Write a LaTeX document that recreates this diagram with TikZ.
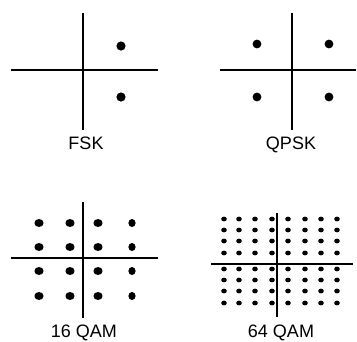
\documentclass[tikz,border=0pt]{standalone}
\usepackage{fontspec}
\setmainfont{Liberation Sans}
\begin{document}
\begin{tikzpicture}[x=1pt,y=-1pt,
  axis/.style={line width=2.2pt,black},
  lbl/.style={font=\fontsize{18}{20}\selectfont,inner sep=0pt,anchor=base}]
\useasboundingbox (0,0) rectangle (357,341);
% FSK
\coordinate (f1) at (83,13); \coordinate (f2) at (83,130);
\coordinate (f3) at (11,70); \coordinate (f4) at (158,70);
\draw[axis] (f1) -- (f2); \draw[axis] (f3) -- (f4);
\fill (121,46) circle[radius=4.6];
\fill (121,97) circle[radius=4.6];
\node[lbl] (fsk) at (86,149) {FSK};
% QPSK
\coordinate (q1) at (292,13); \coordinate (q2) at (292,130);
\coordinate (q3) at (220,70); \coordinate (q4) at (356,70);
\draw[axis] (q1) -- (q2); \draw[axis] (q3) -- (q4);
\foreach \x in {257,329} \foreach \y in {44,97} \fill (\x,\y) circle[radius=4.4];
\node[lbl] (qpsk) at (291,149) {QPSK};
% 16 QAM
\coordinate (a1) at (83,202); \coordinate (a2) at (83,318);
\coordinate (a3) at (11,258); \coordinate (a4) at (158,258);
\draw[axis] (a1) -- (a2); \draw[axis] (a3) -- (a4);
\foreach \x in {39,70,98} \foreach \y in {223,247,271,296} \fill (\x,\y) ellipse[x radius=4.6,y radius=4];
\foreach \y in {223,247,271,296} \fill (132,\y) ellipse[x radius=3.6,y radius=4];
\node[lbl] (q16) at (84,337) {16 QAM};
% 64 QAM
\coordinate (b1) at (277,213); \coordinate (b2) at (277,317);
\coordinate (b3) at (211,264); \coordinate (b4) at (353,264);
\draw[axis] (b1) -- (b2); \draw[axis] (b3) -- (b4);
\foreach \x in {224,239,255,272,288,305,321,337}
  \foreach \y in {219,230,241,253,269,280,291,303}
    \fill (\x,\y) ellipse[x radius=2.8,y radius=2.4];
\node[lbl] (q64) at (281,337) {64 QAM};
\end{tikzpicture}
\end{document}
